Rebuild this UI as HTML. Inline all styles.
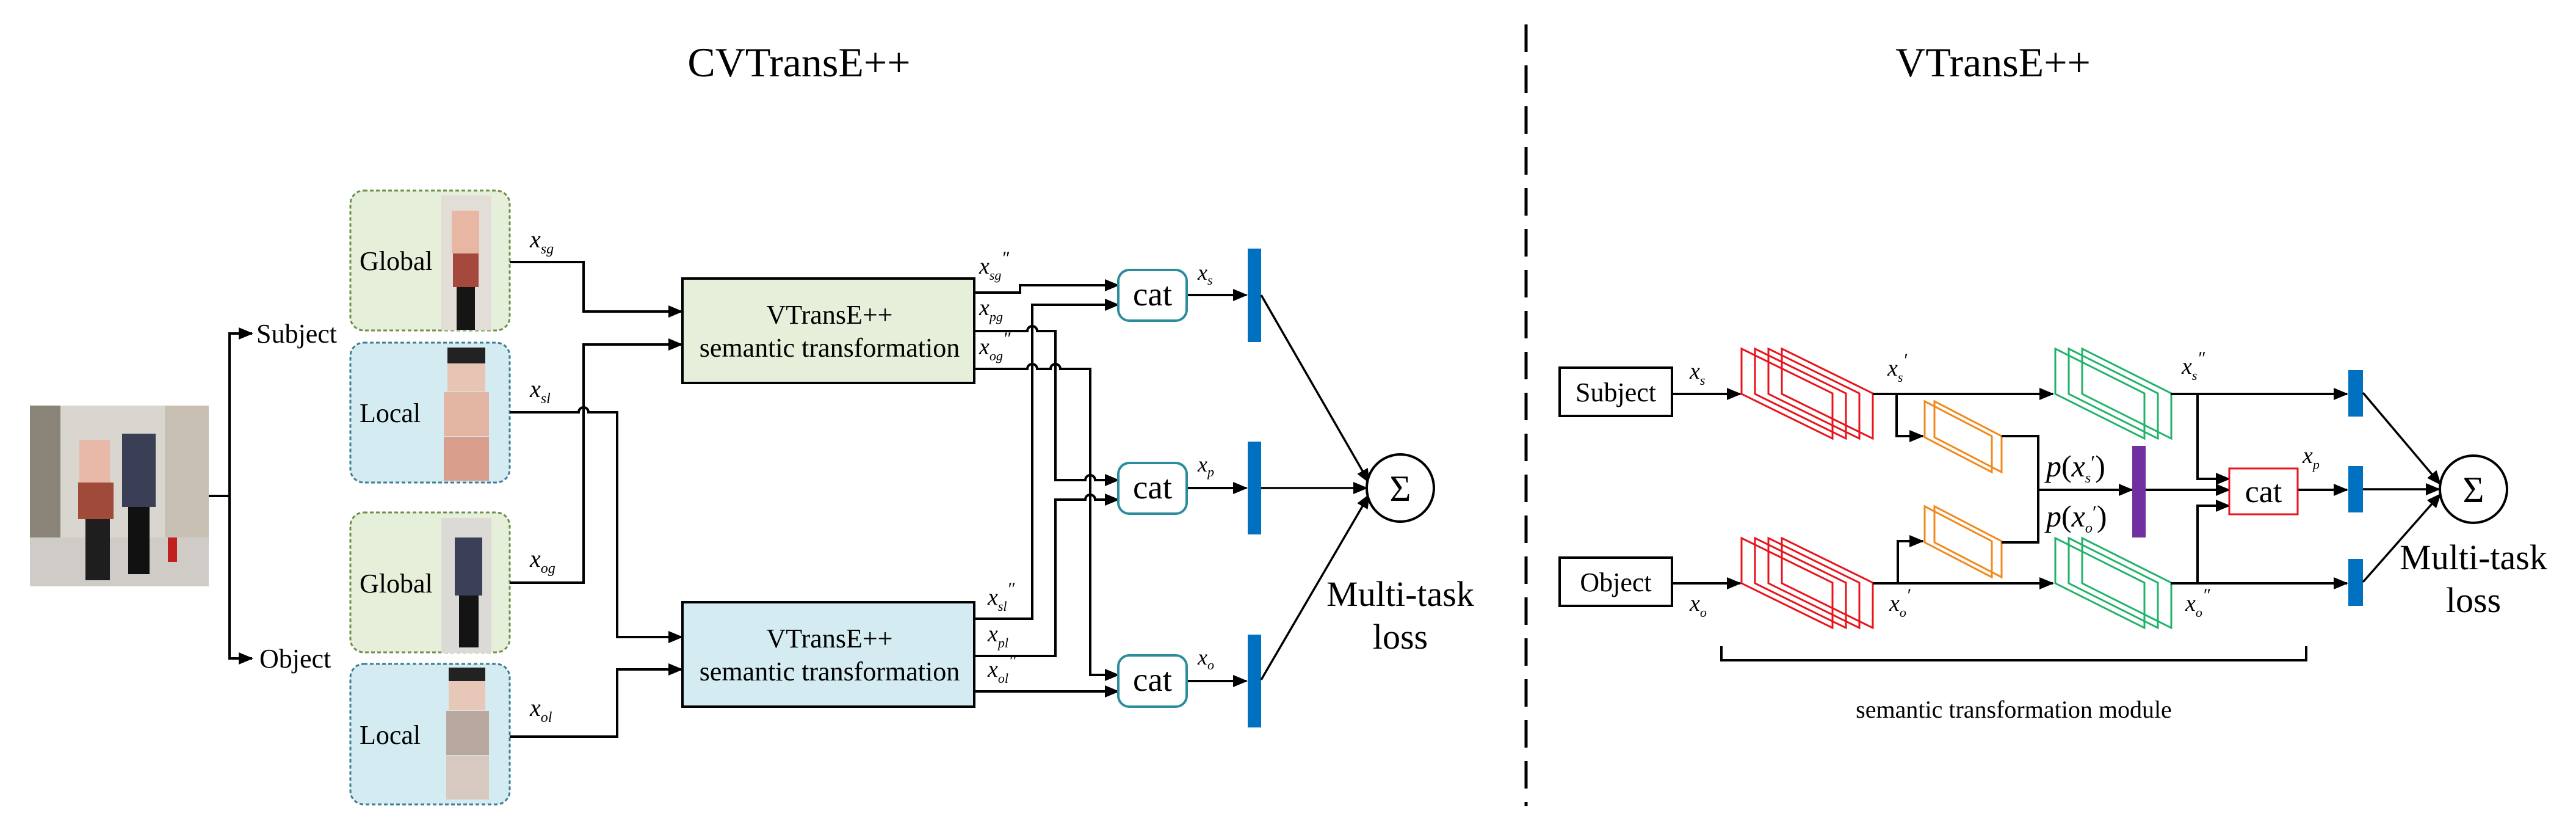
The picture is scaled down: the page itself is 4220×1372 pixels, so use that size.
<!DOCTYPE html>
<html><head><meta charset="utf-8"><style>
html,body{margin:0;padding:0;background:#fff}
svg{display:block}
text{font-family:"Liberation Serif",serif;fill:#000}
.it{font-style:italic}
</style></head><body>
<svg width="4220" height="1372" viewBox="0 0 4220 1372" xmlns="http://www.w3.org/2000/svg">
<defs>
<marker id="ar" markerWidth="24" markerHeight="20" refX="22" refY="10" orient="auto" markerUnits="userSpaceOnUse">
<path d="M0,0 L24,10 L0,20 Z" fill="#000"/></marker>
</defs>
<!-- titles -->
<text x="1309" y="125" font-size="68" text-anchor="middle">CVTransE++</text>
<text x="3265" y="125" font-size="68" text-anchor="middle">VTransE++</text>
<line x1="2500" y1="40" x2="2500" y2="1320" stroke="#000" stroke-width="5" stroke-dasharray="45 22"/>

<!-- main photo -->
<rect x="49" y="664" width="293" height="296" fill="#d9d6d0"/>
<rect x="49" y="664" width="50" height="296" fill="#8a8378"/>
<rect x="270" y="664" width="72" height="220" fill="#c9c0b4"/>
<rect x="49" y="880" width="293" height="80" fill="#cfcbc6"/>
<rect x="130" y="720" width="50" height="90" fill="#e8b8a8"/>
<rect x="128" y="790" width="58" height="60" fill="#a04a3a"/>
<rect x="140" y="850" width="40" height="100" fill="#1e1e1e"/>
<rect x="200" y="710" width="55" height="120" fill="#3a3f55"/>
<rect x="210" y="830" width="35" height="110" fill="#111"/>
<rect x="275" y="880" width="15" height="40" fill="#c02020"/>

<!-- tree -->
<path d="M342,812 H376 V546 H413" fill="none" stroke="#000" stroke-width="4" marker-end="url(#ar)"/>
<path d="M376,812 V1078 H413" fill="none" stroke="#000" stroke-width="4" marker-end="url(#ar)"/>
<text x="420" y="561" font-size="44">Subject</text>
<text x="425" y="1093" font-size="44">Object</text>

<!-- left boxes -->
<rect x="574" y="312" width="261" height="229" rx="22" fill="#e6efda" stroke="#6d8f4a" stroke-width="3" stroke-dasharray="6 4"/>
<rect x="574" y="561" width="261" height="229" rx="22" fill="#d3ebf1" stroke="#3a7f95" stroke-width="3" stroke-dasharray="6 4"/>
<rect x="574" y="839" width="261" height="229" rx="22" fill="#e6efda" stroke="#6d8f4a" stroke-width="3" stroke-dasharray="6 4"/>
<rect x="574" y="1087" width="261" height="230" rx="22" fill="#d3ebf1" stroke="#3a7f95" stroke-width="3" stroke-dasharray="6 4"/>
<text x="589" y="442" font-size="44">Global</text>
<text x="589" y="691" font-size="44">Local</text>
<text x="589" y="970" font-size="44">Global</text>
<text x="589" y="1218" font-size="44">Local</text>
<!-- crop images -->
<rect x="723" y="320" width="82" height="221" fill="#e2ddd6"/>
<rect x="740" y="345" width="45" height="70" fill="#e7b7a4"/>
<rect x="742" y="415" width="42" height="55" fill="#a5493c"/>
<rect x="748" y="470" width="30" height="70" fill="#151515"/>
<rect x="733" y="569" width="62" height="72" fill="#e8c4b4"/><rect x="733" y="569" width="62" height="26" fill="#222"/>
<rect x="727" y="642" width="74" height="72" fill="#e3b5a3"/>
<rect x="727" y="715" width="74" height="72" fill="#d99f8c"/>
<rect x="723" y="848" width="82" height="221" fill="#dcdad6"/>
<rect x="745" y="880" width="45" height="95" fill="#3b4058"/>
<rect x="752" y="975" width="32" height="85" fill="#141414"/>
<rect x="735" y="1093" width="60" height="70" fill="#e7c7b8"/><rect x="735" y="1093" width="60" height="22" fill="#222"/>
<rect x="731" y="1164" width="70" height="72" fill="#b9a8a0"/>
<rect x="731" y="1237" width="70" height="72" fill="#d8c9c0"/>

<!-- left connectors -->
<g fill="none" stroke="#000" stroke-width="4">
<path d="M835,429 H956 V510 H1117" marker-end="url(#ar)"/>
<path d="M835,675 H948 a8,8 0 0 1 16,0 H1011 V1043 H1117" marker-end="url(#ar)"/>
<path d="M835,954 H956 V564 H1117" marker-end="url(#ar)"/>
<path d="M835,1206 H1011 V1096 H1117" marker-end="url(#ar)"/>
</g>
<text class="it" x="868" y="405" font-size="40">x<tspan font-size="24" dy="10">sg</tspan></text>
<text class="it" x="868" y="650" font-size="40">x<tspan font-size="24" dy="10">sl</tspan></text>
<text class="it" x="868" y="928" font-size="40">x<tspan font-size="24" dy="10">og</tspan></text>
<text class="it" x="868" y="1172" font-size="40">x<tspan font-size="24" dy="10">ol</tspan></text>

<!-- VT boxes -->
<rect x="1118" y="456" width="478" height="171" fill="#e6efda" stroke="#000" stroke-width="4"/>
<rect x="1118" y="986" width="478" height="171" fill="#d3ebf1" stroke="#000" stroke-width="4"/>
<text x="1359" y="530" font-size="44" text-anchor="middle">VTransE++</text>
<text x="1359" y="584" font-size="44" text-anchor="middle">semantic transformation</text>
<text x="1359" y="1060" font-size="44" text-anchor="middle">VTransE++</text>
<text x="1359" y="1114" font-size="44" text-anchor="middle">semantic transformation</text>

<!-- outputs -->
<g fill="none" stroke="#000" stroke-width="4">
<path d="M1596,479 H1671 V467 H1832" marker-end="url(#ar)"/>
<path d="M1596,542 H1683 a8,8 0 0 1 16,0 H1729 V786 H1778 a8,8 0 0 1 16,0 H1832" marker-end="url(#ar)"/>
<path d="M1596,604 H1683 a8,8 0 0 1 16,0 H1721 a8,8 0 0 1 16,0 H1786 V1105 H1832" marker-end="url(#ar)"/>
<path d="M1596,1013 H1691 V499 H1832" marker-end="url(#ar)"/>
<path d="M1596,1074 H1729 V818 H1778 a8,8 0 0 1 16,0 H1832" marker-end="url(#ar)"/>
<path d="M1596,1132 H1832" marker-end="url(#ar)"/>
<path d="M1944,483 H2042" marker-end="url(#ar)"/>
<path d="M1944,799 H2042" marker-end="url(#ar)"/>
<path d="M1944,1115 H2042" marker-end="url(#ar)"/>
</g>
<text class="it" x="1604" y="448" font-size="38">x<tspan font-size="22" dy="10">sg</tspan><tspan dy="-26" font-size="30">″</tspan></text>
<text class="it" x="1604" y="516" font-size="38">x<tspan font-size="22" dy="10">pg</tspan></text>
<text class="it" x="1604" y="580" font-size="38">x<tspan font-size="22" dy="10">og</tspan><tspan dy="-26" font-size="30">″</tspan></text>
<text class="it" x="1618" y="990" font-size="38">x<tspan font-size="22" dy="10">sl</tspan><tspan dy="-26" font-size="30">″</tspan></text>
<text class="it" x="1618" y="1050" font-size="38">x<tspan font-size="22" dy="10">pl</tspan></text>
<text class="it" x="1618" y="1108" font-size="38">x<tspan font-size="22" dy="10">ol</tspan><tspan dy="-26" font-size="30">″</tspan></text>

<!-- cat boxes -->
<g fill="#fff" stroke="#2b8c9c" stroke-width="4">
<rect x="1832" y="442" width="112" height="83" rx="18"/>
<rect x="1832" y="758" width="112" height="83" rx="18"/>
<rect x="1832" y="1073" width="112" height="84" rx="18"/>
</g>
<text x="1888" y="500" font-size="55" text-anchor="middle">cat</text>
<text x="1888" y="816" font-size="55" text-anchor="middle">cat</text>
<text x="1888" y="1131" font-size="55" text-anchor="middle">cat</text>
<text class="it" x="1962" y="458" font-size="36">x<tspan font-size="22" dy="8">s</tspan></text>
<text class="it" x="1962" y="772" font-size="36">x<tspan font-size="22" dy="8">p</tspan></text>
<text class="it" x="1962" y="1088" font-size="36">x<tspan font-size="22" dy="8">o</tspan></text>

<!-- bars -->
<g fill="#0070c0">
<rect x="2044" y="407" width="22" height="153"/>
<rect x="2044" y="723" width="22" height="152"/>
<rect x="2044" y="1039" width="22" height="152"/>
</g>
<g fill="none" stroke="#000" stroke-width="3.5">
<path d="M2066,483 L2243,790" marker-end="url(#ar)"/>
<path d="M2066,799 H2239" marker-end="url(#ar)"/>
<path d="M2066,1113 L2243,810" marker-end="url(#ar)"/>
</g>
<circle cx="2294" cy="799" r="55" fill="#fff" stroke="#000" stroke-width="4"/>
<text x="2294" y="820" font-size="60" text-anchor="middle">Σ</text>
<text x="2294" y="992" font-size="58" text-anchor="middle">Multi-task</text>
<text x="2294" y="1062" font-size="58" text-anchor="middle">loss</text>

<!-- RIGHT PANEL -->
<rect x="2555" y="602" width="184" height="79" fill="#fff" stroke="#000" stroke-width="4"/>
<rect x="2555" y="913" width="184" height="79" fill="#fff" stroke="#000" stroke-width="4"/>
<text x="2647" y="657" font-size="44" text-anchor="middle">Subject</text>
<text x="2647" y="968" font-size="44" text-anchor="middle">Object</text>

<!-- stacks -->
<g fill="none" stroke="#e8141c" stroke-width="3">
<path d="M2919,571 l149,73 v74 l-149,-73 z"/><path d="M2897,571 l149,73 v74 l-149,-73 z"/><path d="M2875,571 l149,73 v74 l-149,-73 z"/><path d="M2853,571 l149,73 v74 l-149,-73 z"/>
<path d="M2919,881 l149,73 v74 l-149,-73 z"/><path d="M2897,881 l149,73 v74 l-149,-73 z"/><path d="M2875,881 l149,73 v74 l-149,-73 z"/><path d="M2853,881 l149,73 v74 l-149,-73 z"/>
</g>
<g fill="none" stroke="#1fb36a" stroke-width="3">
<path d="M3411,571 l146,73 v74 l-146,-73 z"/><path d="M3389,571 l146,73 v74 l-146,-73 z"/><path d="M3367,571 l146,73 v74 l-146,-73 z"/>
<path d="M3411,881 l146,73 v74 l-146,-73 z"/><path d="M3389,881 l146,73 v74 l-146,-73 z"/><path d="M3367,881 l146,73 v74 l-146,-73 z"/>
</g>
<g fill="none" stroke="#f08a1c" stroke-width="3">
<path d="M3169,657 l110,57 v59 l-110,-57 z"/><path d="M3153,657 l110,57 v59 l-110,-57 z"/>
<path d="M3169,829 l110,57 v59 l-110,-57 z"/><path d="M3153,829 l110,57 v59 l-110,-57 z"/>
</g>

<g fill="none" stroke="#000" stroke-width="4">
<path d="M2739,645 H2851" marker-end="url(#ar)"/>
<path d="M2739,955 H2851" marker-end="url(#ar)"/>
<path d="M3068,645 H3363" marker-end="url(#ar)"/>
<path d="M3068,955 H3363" marker-end="url(#ar)"/>
<path d="M3107,645 V714 H3150" marker-end="url(#ar)"/>
<path d="M3109,955 V886 H3150" marker-end="url(#ar)"/>
<path d="M3279,714 H3339 V888 H3279"/>
<path d="M3339,802 H3493" marker-end="url(#ar)"/>
<path d="M3515,802 H3652" marker-end="url(#ar)"/>
<path d="M3556,645 H3845" marker-end="url(#ar)"/>
<path d="M3556,955 H3845" marker-end="url(#ar)"/>
<path d="M3600,645 V784 H3652" marker-end="url(#ar)"/>
<path d="M3600,955 V828 H3652" marker-end="url(#ar)"/>
<path d="M3764,802 H3845" marker-end="url(#ar)"/>
</g>
<rect x="3493" y="730" width="22" height="150" fill="#7030a0"/>
<rect x="3652" y="767" width="112" height="75" fill="#fff" stroke="#e8141c" stroke-width="3"/>
<text x="3708" y="822" font-size="52" text-anchor="middle">cat</text>
<g fill="#0070c0">
<rect x="3847" y="606" width="24" height="76"/>
<rect x="3847" y="763" width="24" height="76"/>
<rect x="3847" y="915" width="24" height="77"/>
</g>
<g fill="none" stroke="#000" stroke-width="3.5">
<path d="M3871,643 L3998,793" marker-end="url(#ar)"/>
<path d="M3871,801 H3996" marker-end="url(#ar)"/>
<path d="M3871,953 L3998,809" marker-end="url(#ar)"/>
</g>
<circle cx="4052" cy="801" r="55" fill="#fff" stroke="#000" stroke-width="4"/>
<text x="4052" y="822" font-size="60" text-anchor="middle">Σ</text>
<text x="4052" y="932" font-size="58" text-anchor="middle">Multi-task</text>
<text x="4052" y="1002" font-size="58" text-anchor="middle">loss</text>

<!-- labels right -->
<text class="it" x="2768" y="620" font-size="38">x<tspan font-size="22" dy="10">s</tspan></text>
<text class="it" x="3092" y="615" font-size="38">x<tspan font-size="22" dy="10">s</tspan><tspan dy="-26" font-size="30">′</tspan></text>
<text class="it" x="3574" y="612" font-size="38">x<tspan font-size="22" dy="10">s</tspan><tspan dy="-26" font-size="30">″</tspan></text>
<text class="it" x="2768" y="1000" font-size="38">x<tspan font-size="22" dy="10">o</tspan></text>
<text class="it" x="3095" y="1000" font-size="38">x<tspan font-size="22" dy="10">o</tspan><tspan dy="-26" font-size="30">′</tspan></text>
<text class="it" x="3580" y="1000" font-size="38">x<tspan font-size="22" dy="10">o</tspan><tspan dy="-26" font-size="30">″</tspan></text>
<text class="it" x="3772" y="758" font-size="38">x<tspan font-size="22" dy="10">p</tspan></text>
<text x="3352" y="780" font-size="50"><tspan class="it">p</tspan>(<tspan class="it">x</tspan><tspan class="it" font-size="24" dy="10">s</tspan><tspan dy="-22" font-size="32">′</tspan><tspan dy="12">)</tspan></text>
<text x="3352" y="862" font-size="50"><tspan class="it">p</tspan>(<tspan class="it">x</tspan><tspan class="it" font-size="24" dy="10">o</tspan><tspan dy="-22" font-size="32">′</tspan><tspan dy="12">)</tspan></text>

<path d="M2820,1058 V1081 H3778 V1058" fill="none" stroke="#000" stroke-width="4"/>
<text x="3299" y="1175" font-size="40" text-anchor="middle">semantic transformation module</text>
</svg>
</body></html>
